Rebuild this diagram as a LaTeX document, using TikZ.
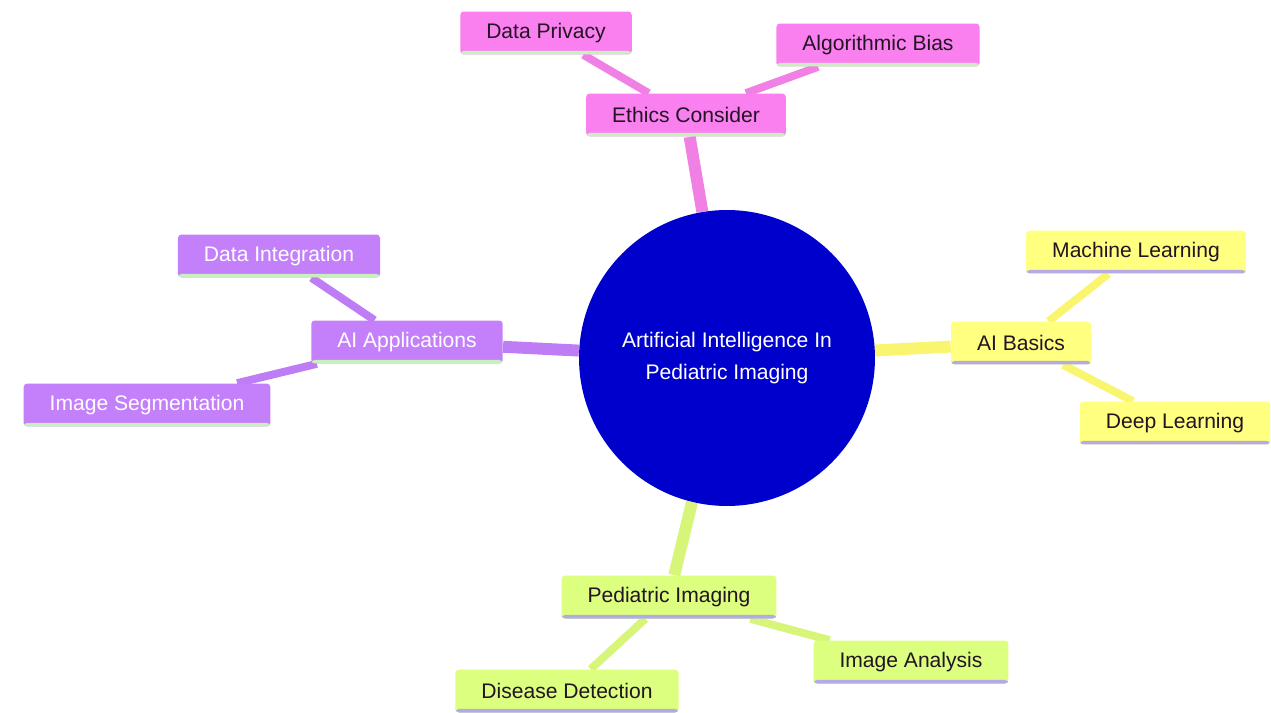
\documentclass[tikz,border=0pt]{standalone}
\usepackage{fontspec}
\setmainfont{Liberation Sans}
\usetikzlibrary{backgrounds}
\definecolor{pinkfill}{RGB}{250,128,240}
\definecolor{pinkline}{RGB}{240,128,228}
\definecolor{yellowfill}{RGB}{255,255,128}
\definecolor{yellowline}{RGB}{250,245,110}
\definecolor{purplefill}{RGB}{195,128,250}
\definecolor{purpleline}{RGB}{190,125,245}
\definecolor{greenfill}{RGB}{220,255,128}
\definecolor{greenline}{RGB}{215,245,120}
\definecolor{hubblue}{RGB}{0,0,205}
\definecolor{lavender}{RGB}{180,170,230}
\definecolor{mint}{RGB}{200,240,190}
\definecolor{darktext}{RGB}{35,20,35}

\begin{document}
\begin{tikzpicture}[x=0.02cm,y=-0.02cm,
  box/.style={rounded corners=2pt, inner xsep=0.52cm, minimum height=0.86cm,
    font=\fontsize{12}{14}\selectfont, text=darktext},
  underline/.style={path picture={\fill[#1] ([yshift=2pt]path picture bounding box.south west) rectangle (path picture bounding box.south east);}},
  pinkbox/.style={box, fill=pinkfill, underline=mint},
  yellowbox/.style={box, fill=yellowfill, underline=lavender},
  purplebox/.style={box, fill=purplefill, underline=mint, text=white},
  greenbox/.style={box, fill=greenfill, underline=lavender},
  hub/.style={circle, fill=hubblue, minimum size=5.92cm, text=white, align=center,
    font=\fontsize{12}{18}\selectfont},
  trunk/.style={line width=6.8pt},
  twig/.style={line width=4.5pt}]
\useasboundingbox (0,0) rectangle (1271,713);
\node(ai) [hub] at (727,358) {Artificial Intelligence In\\Pediatric Imaging};
\node(ec) [pinkbox] at (686,115) {Ethics Consider};
\node(dp) [pinkbox] at (546,33) {Data Privacy};
\node(ab) [pinkbox] at (878,45) {Algorithmic Bias};
\node(ba) [yellowbox] at (1021,343) {AI Basics};
\node(ml) [yellowbox] at (1136,252) {Machine Learning};
\node(dl) [yellowbox] at (1175,423) {Deep Learning};
\node(ap) [purplebox] at (407,342) {AI Applications};
\node(di) [purplebox] at (279,256) {Data Integration};
\node(is) [purplebox] at (147,405) {Image Segmentation};
\node(pi) [greenbox] at (669,597) {Pediatric Imaging};
\node(dd) [greenbox] at (567,691) {Disease Detection};
\node(ia) [greenbox] at (911,662) {Image Analysis};
\begin{scope}[on background layer]
\draw[trunk, pinkline] (ai) -- (ec);
\draw[twig, pinkline] (ec) -- (dp);
\draw[twig, pinkline] (ec) -- (ab);
\draw[trunk, yellowline] (ai) -- (ba);
\draw[twig, yellowline] (ba) -- (ml);
\draw[twig, yellowline] (ba) -- (dl);
\draw[trunk, purpleline] (ai) -- (ap);
\draw[twig, purpleline] (ap) -- (di);
\draw[twig, purpleline] (ap) -- (is);
\draw[trunk, greenline] (ai) -- (pi);
\draw[twig, greenline] (pi) -- (dd);
\draw[twig, greenline] (pi) -- (ia);
\end{scope}
\end{tikzpicture}
\end{document}
